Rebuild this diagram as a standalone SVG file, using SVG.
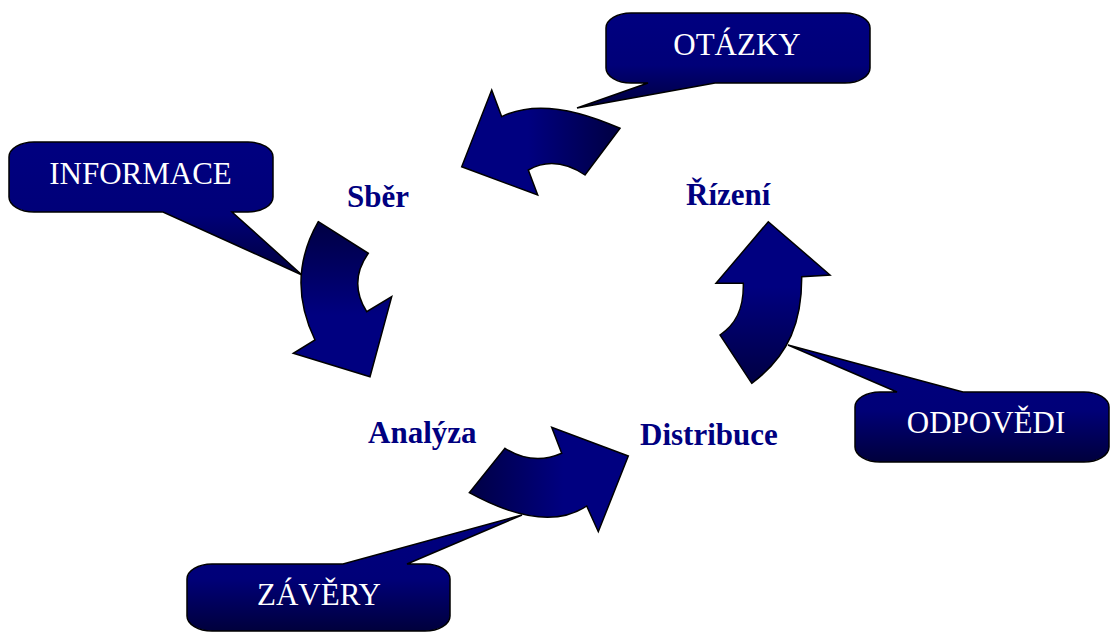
<svg xmlns="http://www.w3.org/2000/svg" width="1111" height="632" viewBox="0 0 1111 632">
<style>
.lbl{font-family:"Liberation Serif","Times New Roman",serif;font-weight:bold;font-size:31px;fill:#000080}
.ct{font-family:"Liberation Serif","Times New Roman",serif;font-size:31px;fill:#ffffff;text-anchor:middle}
.box{fill:url(#boxg);stroke:#000;stroke-width:1.5}
.arr{stroke:#000;stroke-width:1.5;stroke-linejoin:miter}
</style>
<defs>
<linearGradient id="boxg" x1="0" y1="0" x2="0" y2="1">
<stop offset="0" stop-color="#000080"/>
<stop offset="0.55" stop-color="#000078"/>
<stop offset="1" stop-color="#00003c"/>
</linearGradient>
<linearGradient id="g1" gradientUnits="userSpaceOnUse" x1="615" y1="140" x2="470" y2="140">
<stop offset="0" stop-color="#000045"/>
<stop offset="0.6" stop-color="#000080"/>
</linearGradient>
<linearGradient id="g2" gradientUnits="userSpaceOnUse" x1="340" y1="225" x2="340" y2="375">
<stop offset="0" stop-color="#000045"/>
<stop offset="0.6" stop-color="#000080"/>
</linearGradient>
<linearGradient id="g3" gradientUnits="userSpaceOnUse" x1="470" y1="480" x2="625" y2="480">
<stop offset="0" stop-color="#000045"/>
<stop offset="0.6" stop-color="#000080"/>
</linearGradient>
<linearGradient id="g4" gradientUnits="userSpaceOnUse" x1="760" y1="380" x2="760" y2="225">
<stop offset="0" stop-color="#000045"/>
<stop offset="0.6" stop-color="#000080"/>
</linearGradient>
</defs>

<g id="callout-otazky">
<path class="box" d="M 631,13 H 845 A 25 15 0 0 1 870,28 V 68 A 25 15 0 0 1 845,83 H 715 L 577,108 L 648,83 H 631 A 25 15 0 0 1 606,68 V 28 A 25 15 0 0 1 631,13 Z"/>
<text class="ct" x="737" y="55">OTÁZKY</text>
</g>
<g id="callout-informace">
<path class="box" d="M 34,142 H 248 A 25 15 0 0 1 273,157 V 197 A 25 15 0 0 1 248,212 H 232 L 302,275 L 163,212 H 34 A 25 15 0 0 1 9,197 V 157 A 25 15 0 0 1 34,142 Z"/>
<text class="ct" x="140.5" y="184">INFORMACE</text>
</g>
<g id="callout-zavery">
<path class="box" d="M 212,564 H 343 L 522,515 L 407,564 H 425 A 25 15 0 0 1 450,579 V 616 A 25 15 0 0 1 425,631 H 212 A 25 15 0 0 1 187,616 V 579 A 25 15 0 0 1 212,564 Z"/>
<text class="ct" x="319" y="605">ZÁVĚRY</text>
</g>
<g id="callout-odpovedi">
<path class="box" d="M 880,392 H 897 L 788,345 L 963,392 H 1084 A 25 15 0 0 1 1109,407 V 447 A 25 15 0 0 1 1084,462 H 880 A 25 15 0 0 1 855,447 V 407 A 25 15 0 0 1 880,392 Z"/>
<text class="ct" x="986" y="433">ODPOVĚDI</text>
</g>

<g id="node-sber"><text class="lbl" x="347" y="207">Sběr</text></g>
<g id="node-rizeni"><text class="lbl" x="686" y="205">Řízení</text></g>
<g id="node-analyza"><text class="lbl" x="368" y="443">Analýza</text></g>
<g id="node-distribuce"><text class="lbl" x="640" y="445">Distribuce</text></g>

<g id="connectors">
<path class="arr" fill="url(#g1)" d="M 491.7,90 L 501.7,116.7 Q 545,95 620,128.3 L 585,175 Q 555,155 528.3,170 L 537.7,195 L 461.7,166.7 Z"/>
<path class="arr" fill="url(#g2)" d="M 318.3,221.7 L 368.3,253.3 Q 348,282 366.7,311.7 L 391.7,296.7 L 370,376.7 L 293.3,353.3 L 315,340 Q 285.4,279 318.3,221.7 Z"/>
<path class="arr" fill="url(#g3)" d="M 505,448.3 Q 533,466 561.7,453.3 L 551.7,427.3 L 628.3,456 L 598.3,531.7 L 586.7,506 Q 545,534 469.3,492.7 Z"/>
<path class="arr" fill="url(#g4)" d="M 768.3,221.7 L 830,275 L 801.7,276.7 C 802,320 790,355 751.7,383.3 L 720,335 C 735,325 744,310 743.3,283.3 L 716,283.3 Z"/>
</g>
</svg>
